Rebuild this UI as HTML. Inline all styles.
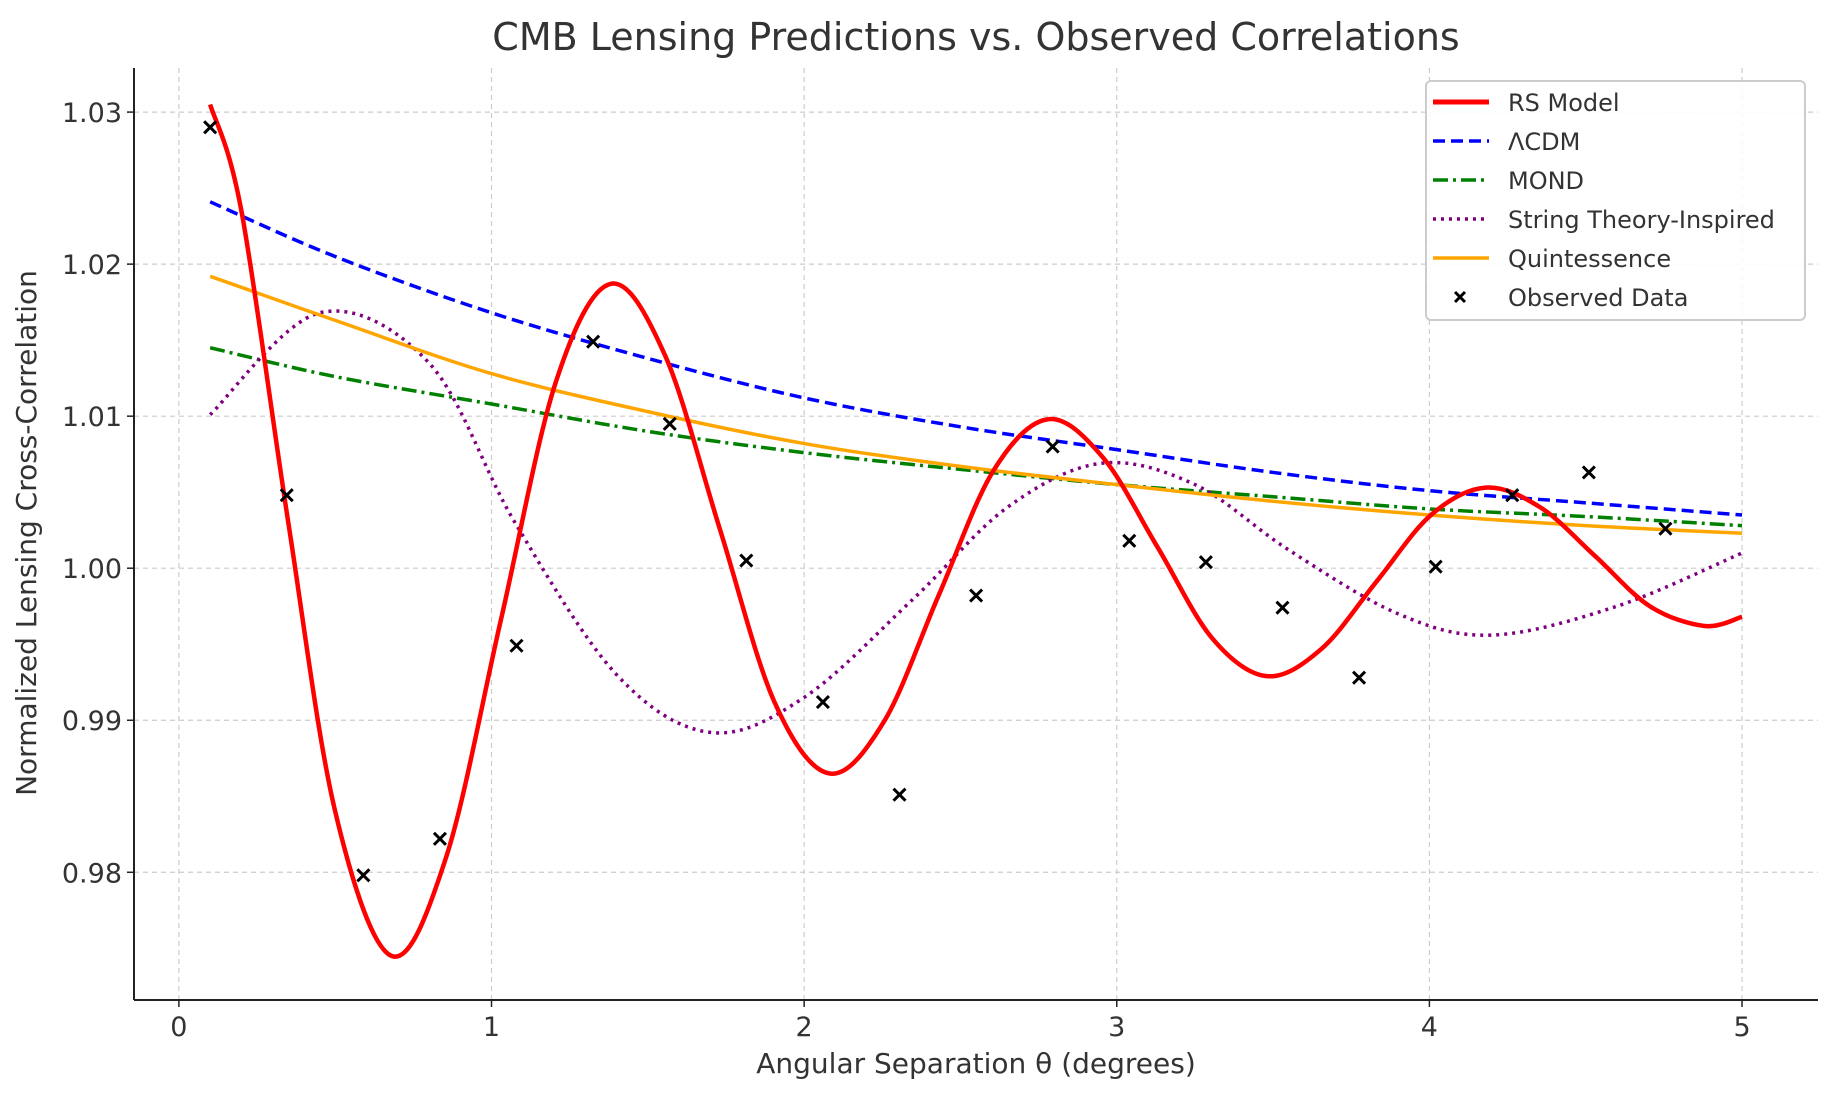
<!DOCTYPE html>
<html><head><meta charset="utf-8"><style>
html,body{margin:0;padding:0;background:#fff;}
svg{display:block;font-family:"DejaVu Sans","Liberation Sans",sans-serif;}
</style></head><body>
<svg id="chart" width="1833" height="1093" viewBox="0 0 1833 1093" xmlns="http://www.w3.org/2000/svg">
<rect width="1833" height="1093" fill="#fff"/>
<text x="976" y="50" text-anchor="middle" font-size="38" fill="#333">CMB Lensing Predictions vs. Observed Correlations</text>
<g id="grid"></g>
<g id="series"></g>
<g id="ticks"></g>
<line x1="134" y1="68" x2="134" y2="1000" stroke="#222" stroke-width="2"/>
<line x1="134" y1="1000" x2="1818" y2="1000" stroke="#222" stroke-width="2"/>
<text x="976" y="1073" text-anchor="middle" font-size="28" fill="#333">Angular Separation θ (degrees)</text>
<text transform="translate(36,533) rotate(-90)" text-anchor="middle" font-size="28" fill="#333">Normalized Lensing Cross-Correlation</text>
<g id="legend">
<rect x="1426" y="81" width="379" height="239" rx="5" fill="#fff" fill-opacity="0.85" stroke="#ccc" stroke-width="2"/>
</g>
</svg>
<script>
const rsX=[0.1,0.2,0.35,0.5,0.68,0.855,1.03,1.205,1.38,1.555,1.73,1.905,2.08,2.255,2.43,2.605,2.78,2.955,3.13,3.305,3.48,3.655,3.83,4.005,4.18,4.355,4.53,4.705,4.88,5.0];
const rsY=[1.0305,1.0235,1.003,0.984,0.9745,0.981,0.9966,1.0122,1.0187,1.014,1.0026,0.9912,0.9865,0.9899,0.9982,1.0064,1.0098,1.0073,1.0014,0.9954,0.9929,0.9947,0.9991,1.0035,1.0053,1.004,1.0008,0.9975,0.9962,0.9968];
const smoothX=[0.1,0.5,1.0,1.5,2.0,2.5,3.0,3.5,4.0,4.5,5.0];
const lcdmY=[1.0241,1.0205,1.0168,1.0138,1.0112,1.0093,1.0078,1.0063,1.0051,1.0043,1.0035];
const mondY=[1.0145,1.0126,1.0108,1.009,1.0076,1.0065,1.0055,1.0047,1.0039,1.0034,1.0028];
const quintY=[1.0192,1.0163,1.0128,1.0103,1.0082,1.0067,1.0055,1.0044,1.0035,1.0028,1.0023];
const strX=[0.1,0.45,0.8,1.075,1.4,1.7,2.0,2.35,2.65,2.95,3.25,3.55,3.9,4.2,4.6,5.0];
const strY=[1.0101,1.0168,1.0135,1.003,0.993,0.9892,0.9915,0.998,1.004,1.0069,1.0055,1.0012,0.997,0.9956,0.9975,1.001];
const obsX=[0.1,0.345,0.59,0.835,1.08,1.325,1.57,1.815,2.06,2.305,2.55,2.795,3.04,3.285,3.53,3.775,4.02,4.265,4.51,4.755];
const obsY=[1.029,1.0048,0.9798,0.9822,0.9949,1.0149,1.0095,1.0005,0.9912,0.9851,0.9982,1.008,1.0018,1.0004,0.9974,0.9928,1.0001,1.0048,1.0063,1.0026];
const xTicks=[0,1,2,3,4,5];
const yTicks=[0.98,0.99,1.00,1.01,1.02,1.03];
const yTickLabels=["0.98","0.99","1.00","1.01","1.02","1.03"];

const NS="http://www.w3.org/2000/svg";
const X0=134,X1=1818,Y0=1000,Y1=68,xmin=-0.1436,xmax=5.243,ymin=0.9716,ymax=1.0329;
const sx=v=>X0+(v-xmin)/(xmax-xmin)*(X1-X0);
const sy=v=>Y0-(v-ymin)/(ymax-ymin)*(Y0-Y1);
function mk(tag,attrs,parent){const e=document.createElementNS(NS,tag);for(const k in attrs)e.setAttribute(k,attrs[k]);parent.appendChild(e);return e;}
const grid=document.getElementById('grid'),ticks=document.getElementById('ticks'),series=document.getElementById('series'),legend=document.getElementById('legend');
xTicks.forEach(t=>{
  const g=mk('line',{x1:sx(t),x2:sx(t),y1:Y1,y2:Y0,stroke:'#ccc','stroke-width':1.2,'stroke-dasharray':'5,4'},grid);
  
  
  const tk=mk('line',{x1:sx(t),x2:sx(t),y1:Y0,y2:Y0+7,stroke:'#222','stroke-width':1.5},ticks);
  
  
  const tl=mk('text',{x:sx(t),y:1036,'text-anchor':'middle','font-size':27,fill:'#333'},ticks);
  tl.textContent=String(t);
  
  
});
yTicks.forEach((t,i)=>{
  const g=mk('line',{x1:X0,x2:X1,y1:sy(t),y2:sy(t),stroke:'#ccc','stroke-width':1.2,'stroke-dasharray':'5,4'},grid);
  
  
  const tk=mk('line',{x1:X0-7,x2:X0,y1:sy(t),y2:sy(t),stroke:'#222','stroke-width':1.5},ticks);
  
  
  const tl=mk('text',{x:122,y:sy(t)+10,'text-anchor':'end','font-size':27,fill:'#333'},ticks);
  tl.textContent=yTickLabels[i];
  
  
});
function smoothPath(xs,ys){
  const p=xs.map((x,i)=>[sx(x),sy(ys[i])]);
  let d='M'+p[0][0]+','+p[0][1];
  for(let i=0;i<p.length-1;i++){
    const a=p[Math.max(0,i-1)],b=p[i],c=p[i+1],e=p[Math.min(p.length-1,i+2)];
    const c1=[b[0]+(c[0]-a[0])/6,b[1]+(c[1]-a[1])/6],c2=[c[0]-(e[0]-b[0])/6,c[1]-(e[1]-b[1])/6];
    d+=' C'+c1[0]+','+c1[1]+' '+c2[0]+','+c2[1]+' '+c[0]+','+c[1];
  }
  return d;
}
const defs=[
  {name:'lcdm-line',xs:smoothX,ys:lcdmY,color:'#0000ff',w:3.5,dash:'12,6'},
  {name:'mond-line',xs:smoothX,ys:mondY,color:'#008000',w:3.5,dash:'15,5,3,5'},
  {name:'string-theory-line',xs:strX,ys:strY,color:'#800080',w:3.5,dash:'3,5'},
  {name:'quintessence-line',xs:smoothX,ys:quintY,color:'#ffa500',w:3.5,dash:''},
  {name:'rs-model-line',xs:rsX,ys:rsY,color:'#ff0000',w:4.5,dash:''}
];
defs.forEach(s=>{
  const a={d:smoothPath(s.xs,s.ys),fill:'none',stroke:s.color,'stroke-width':s.w};
  if(s.dash)a['stroke-dasharray']=s.dash;
  const p=mk('path',a,series);
  
  
});
obsX.forEach((x,i)=>{
  const cx=sx(x),cy=sy(obsY[i]);
  const m=mk('path',{d:`M${cx-6},${cy-6}L${cx+6},${cy+6}M${cx-6},${cy+6}L${cx+6},${cy-6}`,stroke:'#000','stroke-width':3},series);
  
  
});
const leg=[
  ['RS Model','#ff0000',5,''],['ΛCDM','#0000ff',3.5,'12,6'],['MOND','#008000',3.5,'15,5,3,5'],
  ['String Theory-Inspired','#800080',3.5,'3,5'],['Quintessence','#ffa500',3.5,''],['Observed Data',null]
];
leg.forEach((l,i)=>{
  const y=102+i*39;
  if(l[1]){
    const a={x1:1433,x2:1489,y1:y,y2:y,stroke:l[1],'stroke-width':l[2]};
    if(l[3])a['stroke-dasharray']=l[3];
    const ln=mk('line',a,legend);
    
    
  } else {
    const m=mk('path',{d:`M1455,${y-5}L1465,${y+5}M1455,${y+5}L1465,${y-5}`,stroke:'#000','stroke-width':3},legend);
    
    
  }
  const t=mk('text',{x:1508,y:y+9,'font-size':24,fill:'#333'},legend);
  t.textContent=l[0];
  
  
});
</script>
</body></html>
